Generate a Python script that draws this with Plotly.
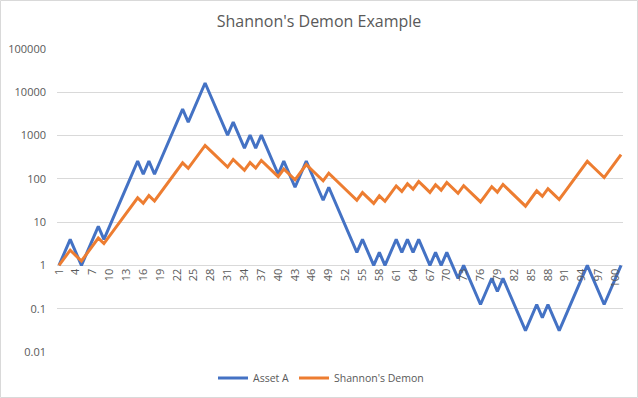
import plotly.graph_objects as go

periods = list(range(1, 102))
asset_a = [1, 2, 4, 2, 1, 2, 4, 8, 4, 8, 16, 32, 64, 128, 256, 128, 256, 128, 256, 512,
           1024, 2048, 4096, 2048, 4096, 8192, 16384, 8192, 4096, 2048, 1024, 2048, 1024, 512, 1024, 512,
           1024, 512, 256, 128, 256, 128, 64, 128, 256, 128, 64, 32, 64, 32,
           16, 8, 4, 2, 4, 2, 1, 2, 1, 2, 4, 2, 4, 2, 4, 2, 1, 2, 1, 2,
           1, 0.5, 1, 0.5, 0.25, 0.125, 0.25, 0.5, 0.25, 0.5, 0.25, 0.125, 0.0625, 0.03125, 0.0625, 0.125,
           0.0625, 0.125, 0.0625, 0.03125, 0.0625, 0.125, 0.25, 0.5, 1, 0.5, 0.25, 0.125, 0.25, 0.5, 1]
shannon_demon = [1, 1.5, 2.25, 1.6875, 1.2656, 1.8984, 2.8477, 4.2715, 3.2036, 4.8054,
                 7.2081, 10.812, 16.218, 24.327, 36.491, 27.368, 41.052, 30.789, 46.184, 69.276,
                 103.91, 155.87, 233.80, 175.35, 263.03, 394.54, 591.81, 443.86, 332.89, 249.67,
                 187.25, 280.88, 210.66, 157.99, 236.99, 177.74, 266.61, 199.96, 149.97, 112.47,
                 168.71, 126.53, 94.90, 142.35, 213.52, 160.14, 120.11, 90.08, 135.12, 101.34,
                 76.01, 57.00, 42.75, 32.07, 48.10, 36.07, 27.06, 40.58, 30.44, 45.66,
                 68.49, 51.36, 77.05, 57.78, 86.68, 65.01, 48.76, 73.13, 54.85, 82.28,
                 61.71, 46.28, 69.42, 52.06, 39.05, 29.29, 43.93, 65.89, 49.42, 74.13,
                 55.60, 41.70, 31.27, 23.45, 35.18, 52.77, 39.58, 59.37, 44.52, 33.39,
                 50.09, 75.14, 112.70, 169.05, 253.58, 190.19, 142.64, 106.98, 160.47, 240.70,
                 361.06]
x_tick_vals = list(range(1, 101, 3))
x_tick_text = [str(v) for v in x_tick_vals]
y_tick_vals = [0.01, 0.1, 1, 10, 100, 1000, 10000, 100000]
y_tick_text = ["0.01", "0.1", "1", "10", "100", "1000", "10000", "100000"]

FONT = "Open Sans"
GREY = "#595959"

fig = go.Figure()
fig.add_trace(go.Scatter(x=periods, y=asset_a, mode="lines", name="Asset A",
                         line=dict(color="#4472C4", width=3)))
fig.add_trace(go.Scatter(x=periods, y=shannon_demon, mode="lines", name="Shannon's Demon",
                         line=dict(color="#ED7D31", width=3)))

L, R, T, B = 57, 15, 49, 46
W, H = 638, 398
pw, ph = W - L - R, H - T - B

def px_to_paper_x(p):
    return (p - L) / pw

def px_to_paper_y(p):
    return (H - B - p) / ph

fig.update_layout(
    width=W, height=H,
    margin=dict(l=L, r=R, t=T, b=B, autoexpand=False),
    paper_bgcolor="white", plot_bgcolor="white",
    font=dict(family=FONT, color=GREY, size=11),
    title=dict(text="Shannon's Demon Example", x=0.5, xref="container", xanchor="center",
               y=1 - 21 / H, yref="container", yanchor="middle",
               font=dict(size=16, color=GREY, family=FONT)),
    xaxis=dict(range=[0.65, 101.35], tickvals=x_tick_vals, ticktext=x_tick_text, tickangle=-90,
               showgrid=False, zeroline=False, showline=False, ticks="", automargin=False,
               anchor="free", position=2 / 7, tickfont=dict(size=11, color=GREY)),
    yaxis=dict(type="log", range=[-2, 5], tickvals=y_tick_vals, ticktext=y_tick_text,
               showgrid=True, gridcolor="#D9D9D9", gridwidth=1, zeroline=False, showline=False,
               ticks="", ticklabelstandoff=10, automargin=False, tickfont=dict(size=11, color=GREY)),
    legend=dict(orientation="h", x=px_to_paper_x(321), xanchor="center", y=px_to_paper_y(378),
                yanchor="middle", font=dict(size=10.5, color=GREY), itemwidth=30, tracegroupgap=0),
    shapes=[dict(type="rect", xref="paper", yref="paper",
                 x0=px_to_paper_x(0.5), x1=px_to_paper_x(W - 0.5),
                 y0=px_to_paper_y(H - 0.5), y1=px_to_paper_y(0.5),
                 line=dict(color="#D9D9D9", width=1), layer="below")],
)

fig.write_html("out.html", config={"displayModeBar": False},
               post_script="document.body.style.margin='0';document.body.style.overflow='hidden';")
